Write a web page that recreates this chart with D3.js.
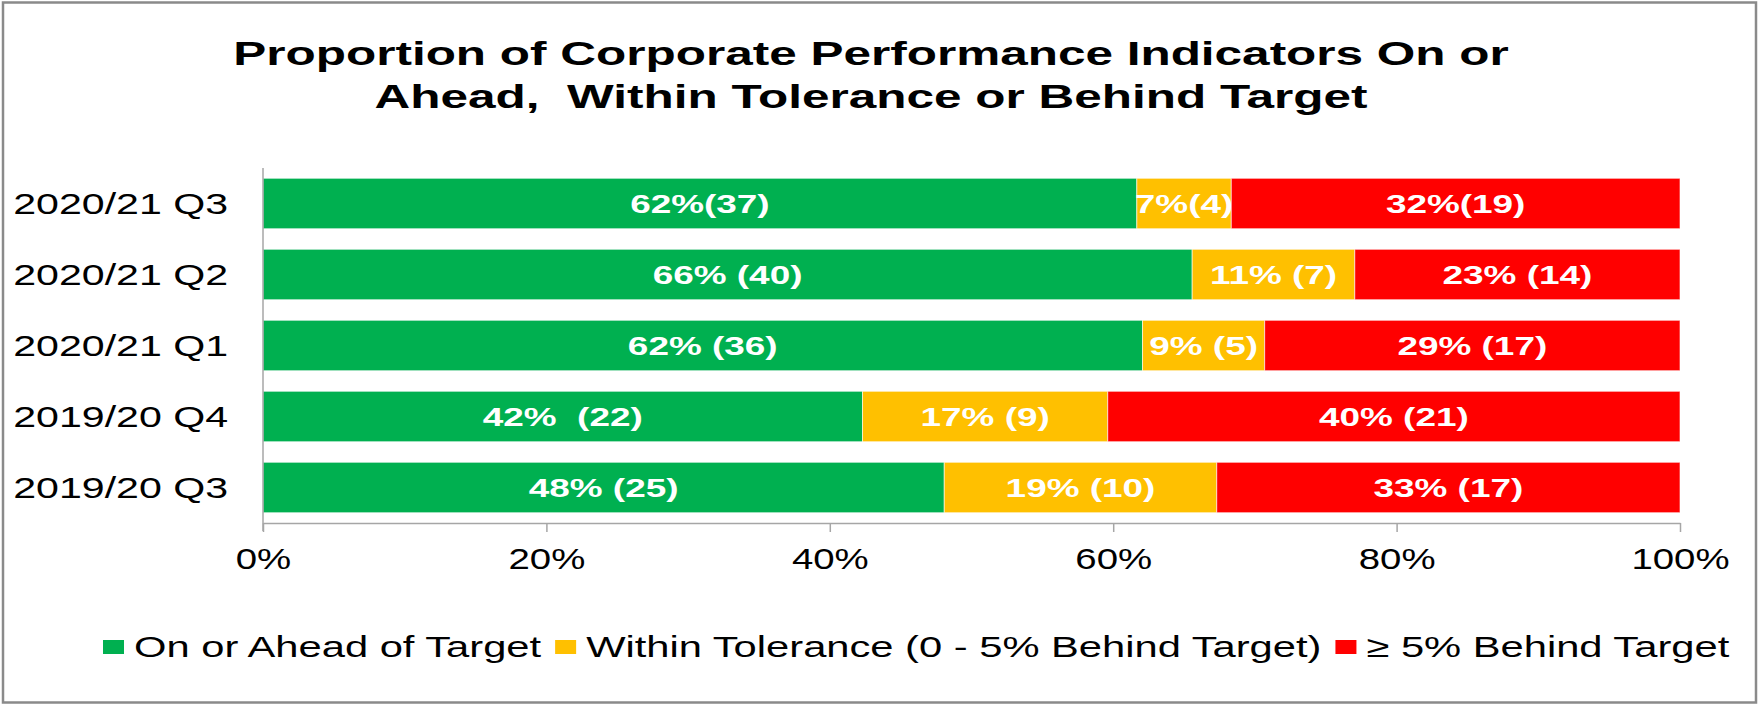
<!DOCTYPE html>
<html>
<head>
<meta charset="utf-8">
<script src="https://cdn.jsdelivr.net/npm/d3@7"></script>
<style>
    body { margin: 0; background: #fff; }
    text { font-family: "Liberation Sans", Arial, sans-serif; white-space: pre; }
</style>
</head>
<body>
<div id="chart"></div>
<script>

// data (counts per quarter)
var categories = ["2020/21 Q3", "2020/21 Q2", "2020/21 Q1", "2019/20 Q4", "2019/20 Q3"];
var seriesNames = ["On or Ahead of Target", "Within Tolerance (0 - 5% Behind Target)", "\u2265 5% Behind Target"];
var onTarget = [37, 40, 36, 22, 25];
var withinTolerance = [4, 7, 5, 9, 10];
var behindTarget = [19, 14, 17, 21, 17];
var onTargetLabels = ["62%(37)", "66% (40)", "62% (36)", "42%  (22)", "48% (25)"];
var withinLabels = ["7%(4)", "11% (7)", "9% (5)", "17% (9)", "19% (10)"];
var behindLabels = ["32%(19)", "23% (14)", "29% (17)", "40% (21)", "33% (17)"];
var tickValues = [0, 0.2, 0.4, 0.6, 0.8, 1];
var titleLines = ["Proportion of Corporate Performance Indicators On or", "Ahead,  Within Tolerance or Behind Target"];

var colors = ["#00B050", "#FFC000", "#FF0000"];

var w = 1759, h = 705;
// the source picture is stretched sideways, so text gets a horizontal scale
var sxTitle = 1.5, sxBody = 1.37, sxTick = 1.28, sxBar = 1.42, sxLegend = 1.39;

var svg = d3.select("#chart").append("svg")
    .attr("width", w)
    .attr("height", h);

svg.append("rect")
    .attr("x", 3).attr("y", 2.5)
    .attr("width", 1753).attr("height", 700)
    .attr("fill", "#fff")
    .attr("stroke", "#8a8a8a")
    .attr("stroke-width", 2.5);

// build rows of proportions
var rows = categories.map(function (c, i) {
    var total = onTarget[i] + withinTolerance[i] + behindTarget[i];
    return {
        cat: c,
        s0: onTarget[i] / total,
        s1: withinTolerance[i] / total,
        s2: behindTarget[i] / total,
        labels: [onTargetLabels[i], withinLabels[i], behindLabels[i]]
    };
});

var stack = d3.stack().keys(["s0", "s1", "s2"]);
var stacked = stack(rows);

var x = d3.scaleLinear().domain([0, 1]).range([263, 1680]);
var y = d3.scaleBand().domain(categories).range([168, 523]).paddingInner(0.29).paddingOuter(0.145);

// title
svg.selectAll("text.title")
    .data(titleLines)
    .enter().append("text")
    .attr("class", "title")
    .attr("transform", function (d, i) {
        return "translate(871," + (65 + i * 43) + ") scale(" + sxTitle + ",1)";
    })
    .attr("text-anchor", "middle")
    .attr("font-weight", "bold")
    .attr("font-size", 33)
    .attr("fill", "#000")
    .text(function (d) { return d; });

// bars
var layer = svg.selectAll("g.layer")
    .data(stacked)
    .enter().append("g")
    .attr("class", "layer")
    .attr("fill", function (d, i) { return colors[i]; });

layer.selectAll("rect")
    .data(function (d) { return d; })
    .enter().append("rect")
    .attr("x", function (d) { return x(d[0]); })
    .attr("y", function (d) { return y(d.data.cat); })
    .attr("width", function (d) { return x(d[1]) - x(d[0]); })
    .attr("height", y.bandwidth())
    .attr("stroke", "rgba(255,255,255,0.6)")
    .attr("stroke-width", 1);

// bar labels
layer.each(function (series, si) {
    d3.select(this).selectAll("text")
        .data(series)
        .enter().append("text")
        .attr("transform", function (d) {
            var cx = (x(d[0]) + x(d[1])) / 2;
            var cy = y(d.data.cat) + y.bandwidth() / 2 + 9;
            return "translate(" + cx + "," + cy + ") scale(" + sxBar + ",1)";
        })
        .attr("text-anchor", "middle")
        .attr("font-weight", "bold")
        .attr("font-size", 26)
        .attr("fill", "#fff")
        .text(function (d) { return d.data.labels[si]; });
});

// y axis
svg.append("line")
    .attr("x1", x(0)).attr("x2", x(0))
    .attr("y1", 168).attr("y2", 531)
    .attr("stroke", "#a6a6a6")
    .attr("stroke-width", 1.5);

svg.selectAll("text.ylab")
    .data(categories)
    .enter().append("text")
    .attr("class", "ylab")
    .attr("transform", function (d) {
        return "translate(228," + (y(d) + y.bandwidth() / 2 + 10.5) + ") scale(" + sxBody + ",1)";
    })
    .attr("text-anchor", "end")
    .attr("font-size", 30)
    .attr("fill", "#000")
    .text(function (d) { return d; });

// x axis
var xAxis = svg.append("g")
    .attr("transform", "translate(0,523)")
    .call(d3.axisBottom(x).tickValues(tickValues).tickSize(9).tickSizeOuter(0)
        .tickFormat(d3.format(".0%")));

xAxis.select(".domain").attr("stroke", "#a6a6a6").attr("stroke-width", 1.5);
xAxis.selectAll(".tick line").attr("stroke", "#a6a6a6").attr("stroke-width", 1.5);
xAxis.selectAll(".tick text")
    .attr("y", 0).attr("dy", 0)
    .attr("transform", "translate(0,46) scale(" + sxTick + ",1)")
    .attr("font-size", 30)
    .attr("font-family", "\"Liberation Sans\", Arial, sans-serif")
    .attr("fill", "#000");

// legend
var legend = svg.append("g").attr("class", "legend");
var lx = 103;
seriesNames.forEach(function (name, i) {
    legend.append("rect")
        .attr("x", lx).attr("y", 640)
        .attr("width", 21).attr("height", 14)
        .attr("fill", colors[i]);
    lx += 21 + 10;
    var t = legend.append("text")
        .attr("transform", "translate(" + lx + ",657) scale(" + sxLegend + ",1)")
        .attr("font-size", 30)
        .attr("fill", "#000")
        .text(name);
    lx += t.node().getComputedTextLength() * sxLegend + 14;
});

</script>
</body>
</html>
